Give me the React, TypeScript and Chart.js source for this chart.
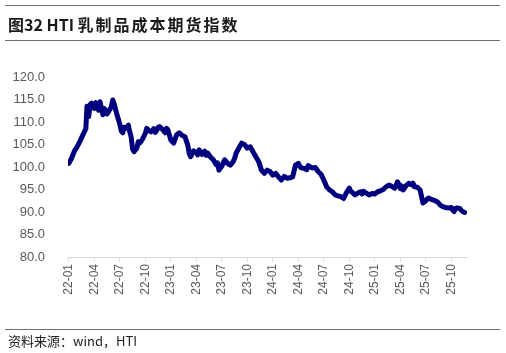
import React, { useEffect, useRef } from "react";
import { Chart, registerables } from "chart.js";
Chart.register(...registerables);

const titlePrefix = "图";
const titleCode = "32 HTI ";
const titleText = "乳制品成本期货指数";
const source = "资料来源：wind，HTI";

// dates (MM-DD) and index values, per year
const dates2022 = [
  "01-01","01-11","01-21","02-01","02-11","02-21","03-01","03-05","03-08","03-11","03-16","03-21",
  "04-01","04-06","04-11","04-16","04-21","05-01","05-06","05-11","05-16","05-21","06-01","06-06",
  "06-11","06-21","07-01","07-06","07-11","07-16","07-21","08-01","08-06","08-11","08-16","08-21",
  "09-01","09-06","09-11","09-21","10-01","10-06","10-11","10-21","11-01","11-06","11-11","11-16",
  "11-21","12-01","12-11","12-16","12-21",
];
const values2022 = [
  100.8,102.0,103.6,104.6,105.8,107.2,108.5,113.5,112.0,111.2,113.9,114.2,
  113.0,114.3,113.8,112.6,114.5,111.6,113.0,112.5,111.8,112.3,113.4,114.9,
  114.0,111.6,109.5,108.0,107.6,108.8,108.6,109.3,107.8,106.7,104.0,103.4,
  104.2,105.6,105.3,106.2,107.5,108.6,108.2,107.8,108.5,107.7,108.1,108.8,
  109.0,108.4,107.6,108.6,108.2,
];

const dates2023 = [
  "01-01","01-11","01-21","02-01","02-11","02-21","03-01","03-06","03-11","03-21","04-01","04-06",
  "04-11","04-21","05-01","05-06","05-11","05-21","06-01","06-11","06-16","06-21","07-01","07-11",
  "07-21","08-01","08-11","08-16","08-21","09-01","09-11","09-21","10-01","10-11","10-21","11-01",
  "11-11","11-21","12-01","12-11","12-21",
];
const values2023 = [
  106.0,105.3,107.1,107.6,107.0,106.7,104.8,103.0,102.3,103.6,103.2,102.7,
  103.8,102.8,103.5,102.6,103.1,102.2,101.6,100.5,100.9,99.3,100.2,101.6,
  100.8,100.4,101.2,101.9,103.0,104.2,105.3,105.0,104.2,104.5,103.4,102.3,
  101.2,99.3,98.6,99.3,99.0,
];

const dates2024 = [
  "01-01","01-11","01-21","02-01","02-11","02-21","03-01","03-11","03-21","04-01","04-06","04-11",
  "04-21","05-01","05-06","05-11","05-21","06-01","06-11","06-21","07-01","07-11","07-21","08-01",
  "08-11","08-21","09-01","09-11","09-21","10-01","10-06","10-11","10-21","11-01","11-11","11-16",
  "11-21","12-01","12-11","12-21",
];
const values2024 = [
  98.2,98.6,97.8,97.1,97.9,97.5,97.6,97.8,100.4,100.8,100.2,99.8,
  99.7,99.4,100.3,100.1,99.8,99.9,99.0,98.4,97.1,95.6,94.9,94.5,
  93.8,93.6,93.4,93.0,94.3,95.3,94.6,94.4,93.8,94.2,94.5,94.0,
  94.6,94.2,93.8,94.1,
];

const dates2025 = [
  "01-01","01-11","01-21","02-01","02-11","02-21","03-01","03-11","03-16","03-21","03-26","04-01",
  "04-06","04-11","04-21","05-01","05-11","05-16","05-21","06-01","06-11","06-21","07-01","07-06",
  "07-11","07-21","08-01","08-11","08-16","08-21","09-01","09-11","09-21","10-01","10-06","10-11",
  "10-16","10-21","11-01","11-06","11-11","11-18",
];
const values2025 = [
  94.0,94.5,94.7,95.0,95.6,96.0,95.7,95.3,95.8,96.7,96.2,95.2,
  95.8,94.9,95.8,96.4,96.0,96.4,95.6,95.5,94.9,92.0,92.5,92.9,
  93.1,92.8,92.6,92.3,92.0,91.6,91.2,91.0,90.9,91.0,90.4,90.1,
  90.8,90.9,90.8,90.4,90.1,89.9,
];

const yTickValues = [80, 85, 90, 95, 100, 105, 110, 115, 120];
const xTickMonths = [0, 3, 6, 9, 12, 15, 18, 21, 24, 27, 30, 33, 36, 39, 42, 45];

function monthIndex(year: number, md: string): number {
  const [m, day] = md.split("-").map(Number);
  return (year - 2022) * 12 + (m - 1) + (day - 1) / 30;
}

function monthLabel(v: number): string {
  const y = 22 + Math.floor(v / 12);
  const m = (v % 12) + 1;
  return `${y}-${m < 10 ? "0" + m : m}`;
}

export default function App() {
  const ref = useRef<HTMLCanvasElement>(null);

  useEffect(() => {
    document.body.style.margin = "0";
    const ctx = ref.current!;
    const years: [number, string[], number[]][] = [
      [2022, dates2022, values2022],
      [2023, dates2023, values2023],
      [2024, dates2024, values2024],
      [2025, dates2025, values2025],
    ];
    const points: { x: number; y: number }[] = [];
    years.forEach(([yr, ds, vs]) => ds.forEach((d, i) => points.push({ x: monthIndex(yr, d), y: vs[i] })));
    const chart = new Chart(ctx, {
      type: "line",
      data: {
        datasets: [
          {
            data: points,
            borderColor: "#00007f",
            borderWidth: 5,
            pointRadius: 0,
            tension: 0,
            borderJoinStyle: "round",
            borderCapStyle: "round",
          },
        ],
      },
      options: {
        animation: false,
        responsive: false,
        maintainAspectRatio: false,
        layout: { padding: { left: 8, right: 39, top: 77, bottom: 56 } },
        plugins: { legend: { display: false }, tooltip: { enabled: false } },
        scales: {
          x: {
            type: "linear",
            min: -0.1,
            max: 46.85,
            afterBuildTicks: (scale: any) => {
              scale.ticks = xTickMonths.map((v) => ({ value: v }));
            },
            afterFit: (scale: any) => {
              scale.height = 40;
            },
            ticks: {
              autoSkip: false,
              minRotation: 90,
              maxRotation: 90,
              padding: 3,
              color: "#595959",
              font: { family: "'Liberation Sans Narrow', 'Liberation Sans', Arial", size: 12 },
              callback: (v: any) => monthLabel(Number(v)),
            },
            grid: {
              display: true,
              drawOnChartArea: false,
              drawTicks: true,
              tickLength: 4,
              color: "#d9d9d9",
            },
            border: { display: true, color: "#d9d9d9", width: 1 },
          },
          y: {
            min: 80,
            max: 120,
            afterBuildTicks: (scale: any) => {
              scale.ticks = yTickValues.map((v) => ({ value: v }));
            },
            afterFit: (scale: any) => {
              scale.width = 60;
            },
            ticks: {
              padding: 15,
              color: "#595959",
              font: { family: "'Liberation Sans', Arial", size: 13 },
              callback: (v: any) => Number(v).toFixed(1),
            },
            grid: { display: false },
            border: { display: false },
          },
        },
      },
    } as any);
    return () => chart.destroy();
  }, []);

  const line = (top: number): React.CSSProperties => ({
    position: "absolute",
    left: 5,
    width: 495,
    top,
    height: 1.3,
    background: "#6e6e6e",
  });

  return (
    <div style={{ position: "relative", width: 506, height: 353, background: "#fff", overflow: "hidden" }}>
      <canvas ref={ref} width={506} height={353} style={{ position: "absolute", left: 0, top: 0, width: 506, height: 353 }} />
      <div style={line(5)} />
      <div
        style={{
          position: "absolute",
          left: 8,
          top: 13,
          fontFamily: "'Noto Sans CJK SC', sans-serif",
          fontWeight: 700,
          fontSize: 16,
          lineHeight: "22px",
          color: "#1a1a1a",
          whiteSpace: "pre",
        }}
      >
        <span>{titlePrefix}</span>
        <span>{titleCode}</span>
        <span style={{ letterSpacing: 2 }}>{titleText}</span>
      </div>
      <div style={line(40)} />
      <div style={line(329)} />
      <div
        style={{
          position: "absolute",
          left: 8,
          top: 332,
          fontFamily: "'Noto Sans CJK SC', sans-serif",
          fontSize: 13,
          lineHeight: "18px",
          color: "#222",
          whiteSpace: "nowrap",
        }}
      >
        {source}
      </div>
    </div>
  );
}
